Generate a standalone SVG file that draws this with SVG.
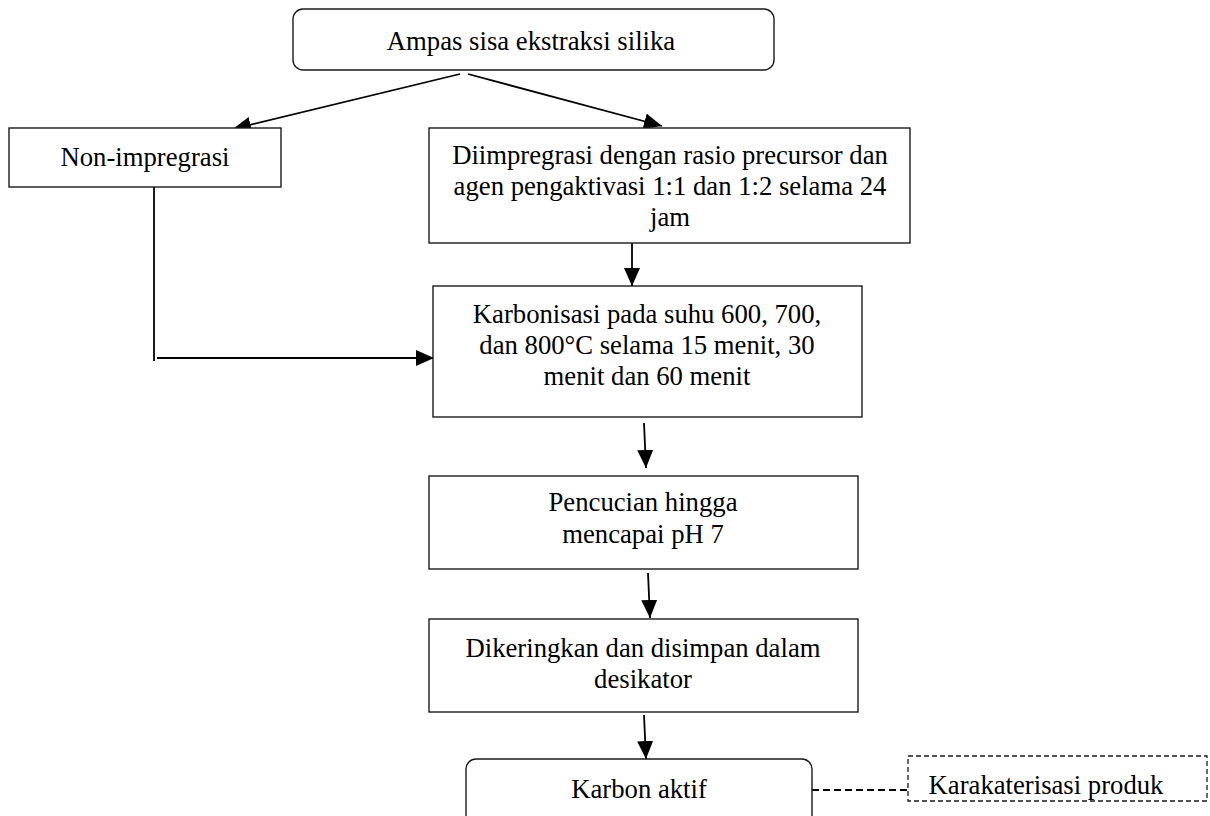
<svg xmlns="http://www.w3.org/2000/svg" width="1210" height="816" viewBox="0 0 1210 816">
<style>
.box{fill:#fff;stroke:#1a1a1a;stroke-width:1.4}
.dbox{fill:#fff;stroke:#1a1a1a;stroke-width:1.3;stroke-dasharray:5 3}
.t{font-family:"Liberation Serif","Times New Roman",serif;font-size:26.7px;fill:#000;text-anchor:middle}
.c{stroke:#000;stroke-width:1.8;fill:none}
.a{marker-end:url(#ah)}
</style>
<defs>
<marker id="ah" markerUnits="userSpaceOnUse" markerWidth="20" markerHeight="16" viewBox="0 0 20 16" refX="18" refY="8" orient="auto">
<path d="M0,0 L18,8 L0,16 Z" fill="#000"/>
</marker>
</defs>
<rect width="1210" height="816" fill="#fff"/>
<g id="connectors">
<line class="c a" x1="460" y1="74" x2="233" y2="129"/>
<line class="c a" x1="468" y1="74" x2="662" y2="126"/>
<line class="c a" x1="632" y1="243" x2="632" y2="286"/>
<line class="c" x1="154" y1="181" x2="154" y2="361"/>
<line class="c a" x1="157" y1="358" x2="434" y2="358"/>
<line class="c a" x1="644" y1="423" x2="646" y2="468"/>
<line class="c a" x1="648" y1="573" x2="650" y2="618"/>
<line class="c a" x1="644" y1="715" x2="646" y2="759"/>
<line class="c" x1="812" y1="790" x2="908" y2="790" stroke-width="1.4" stroke-dasharray="7 4"/>
</g>
<g id="n1">
<rect class="box" x="293" y="9" width="481" height="61" rx="10"/>
<text class="t" x="531" y="50">Ampas sisa ekstraksi silika</text>
</g>
<g id="n2">
<rect class="box" x="9" y="128" width="272" height="59"/>
<text class="t" x="145" y="166">Non-impregrasi</text>
</g>
<g id="n3">
<rect class="box" x="429" y="128" width="481" height="115"/>
<text class="t" x="670" y="164">Diimpregrasi dengan rasio precursor dan</text>
<text class="t" x="670" y="195">agen pengaktivasi 1:1 dan 1:2 selama 24</text>
<text class="t" x="670" y="226">jam</text>
</g>
<g id="n4">
<rect class="box" x="433" y="286" width="429" height="131"/>
<text class="t" x="647" y="323">Karbonisasi pada suhu 600, 700,</text>
<text class="t" x="647" y="354">dan 800°C selama 15 menit, 30</text>
<text class="t" x="647" y="385">menit dan 60 menit</text>
</g>
<g id="n5">
<rect class="box" x="429" y="476" width="429" height="93"/>
<text class="t" x="643" y="511">Pencucian hingga</text>
<text class="t" x="643" y="543">mencapai pH 7</text>
</g>
<g id="n6">
<rect class="box" x="429" y="619" width="429" height="93"/>
<text class="t" x="643" y="657">Dikeringkan dan disimpan dalam</text>
<text class="t" x="643" y="688">desikator</text>
</g>
<g id="n7">
<rect class="box" x="466" y="759" width="346" height="70" rx="10"/>
<text class="t" x="639" y="798">Karbon aktif</text>
</g>
<g id="n8">
<rect class="dbox" x="908" y="756" width="299" height="45"/>
<text class="t" x="1046" y="794">Karakaterisasi produk</text>
</g>
</svg>
